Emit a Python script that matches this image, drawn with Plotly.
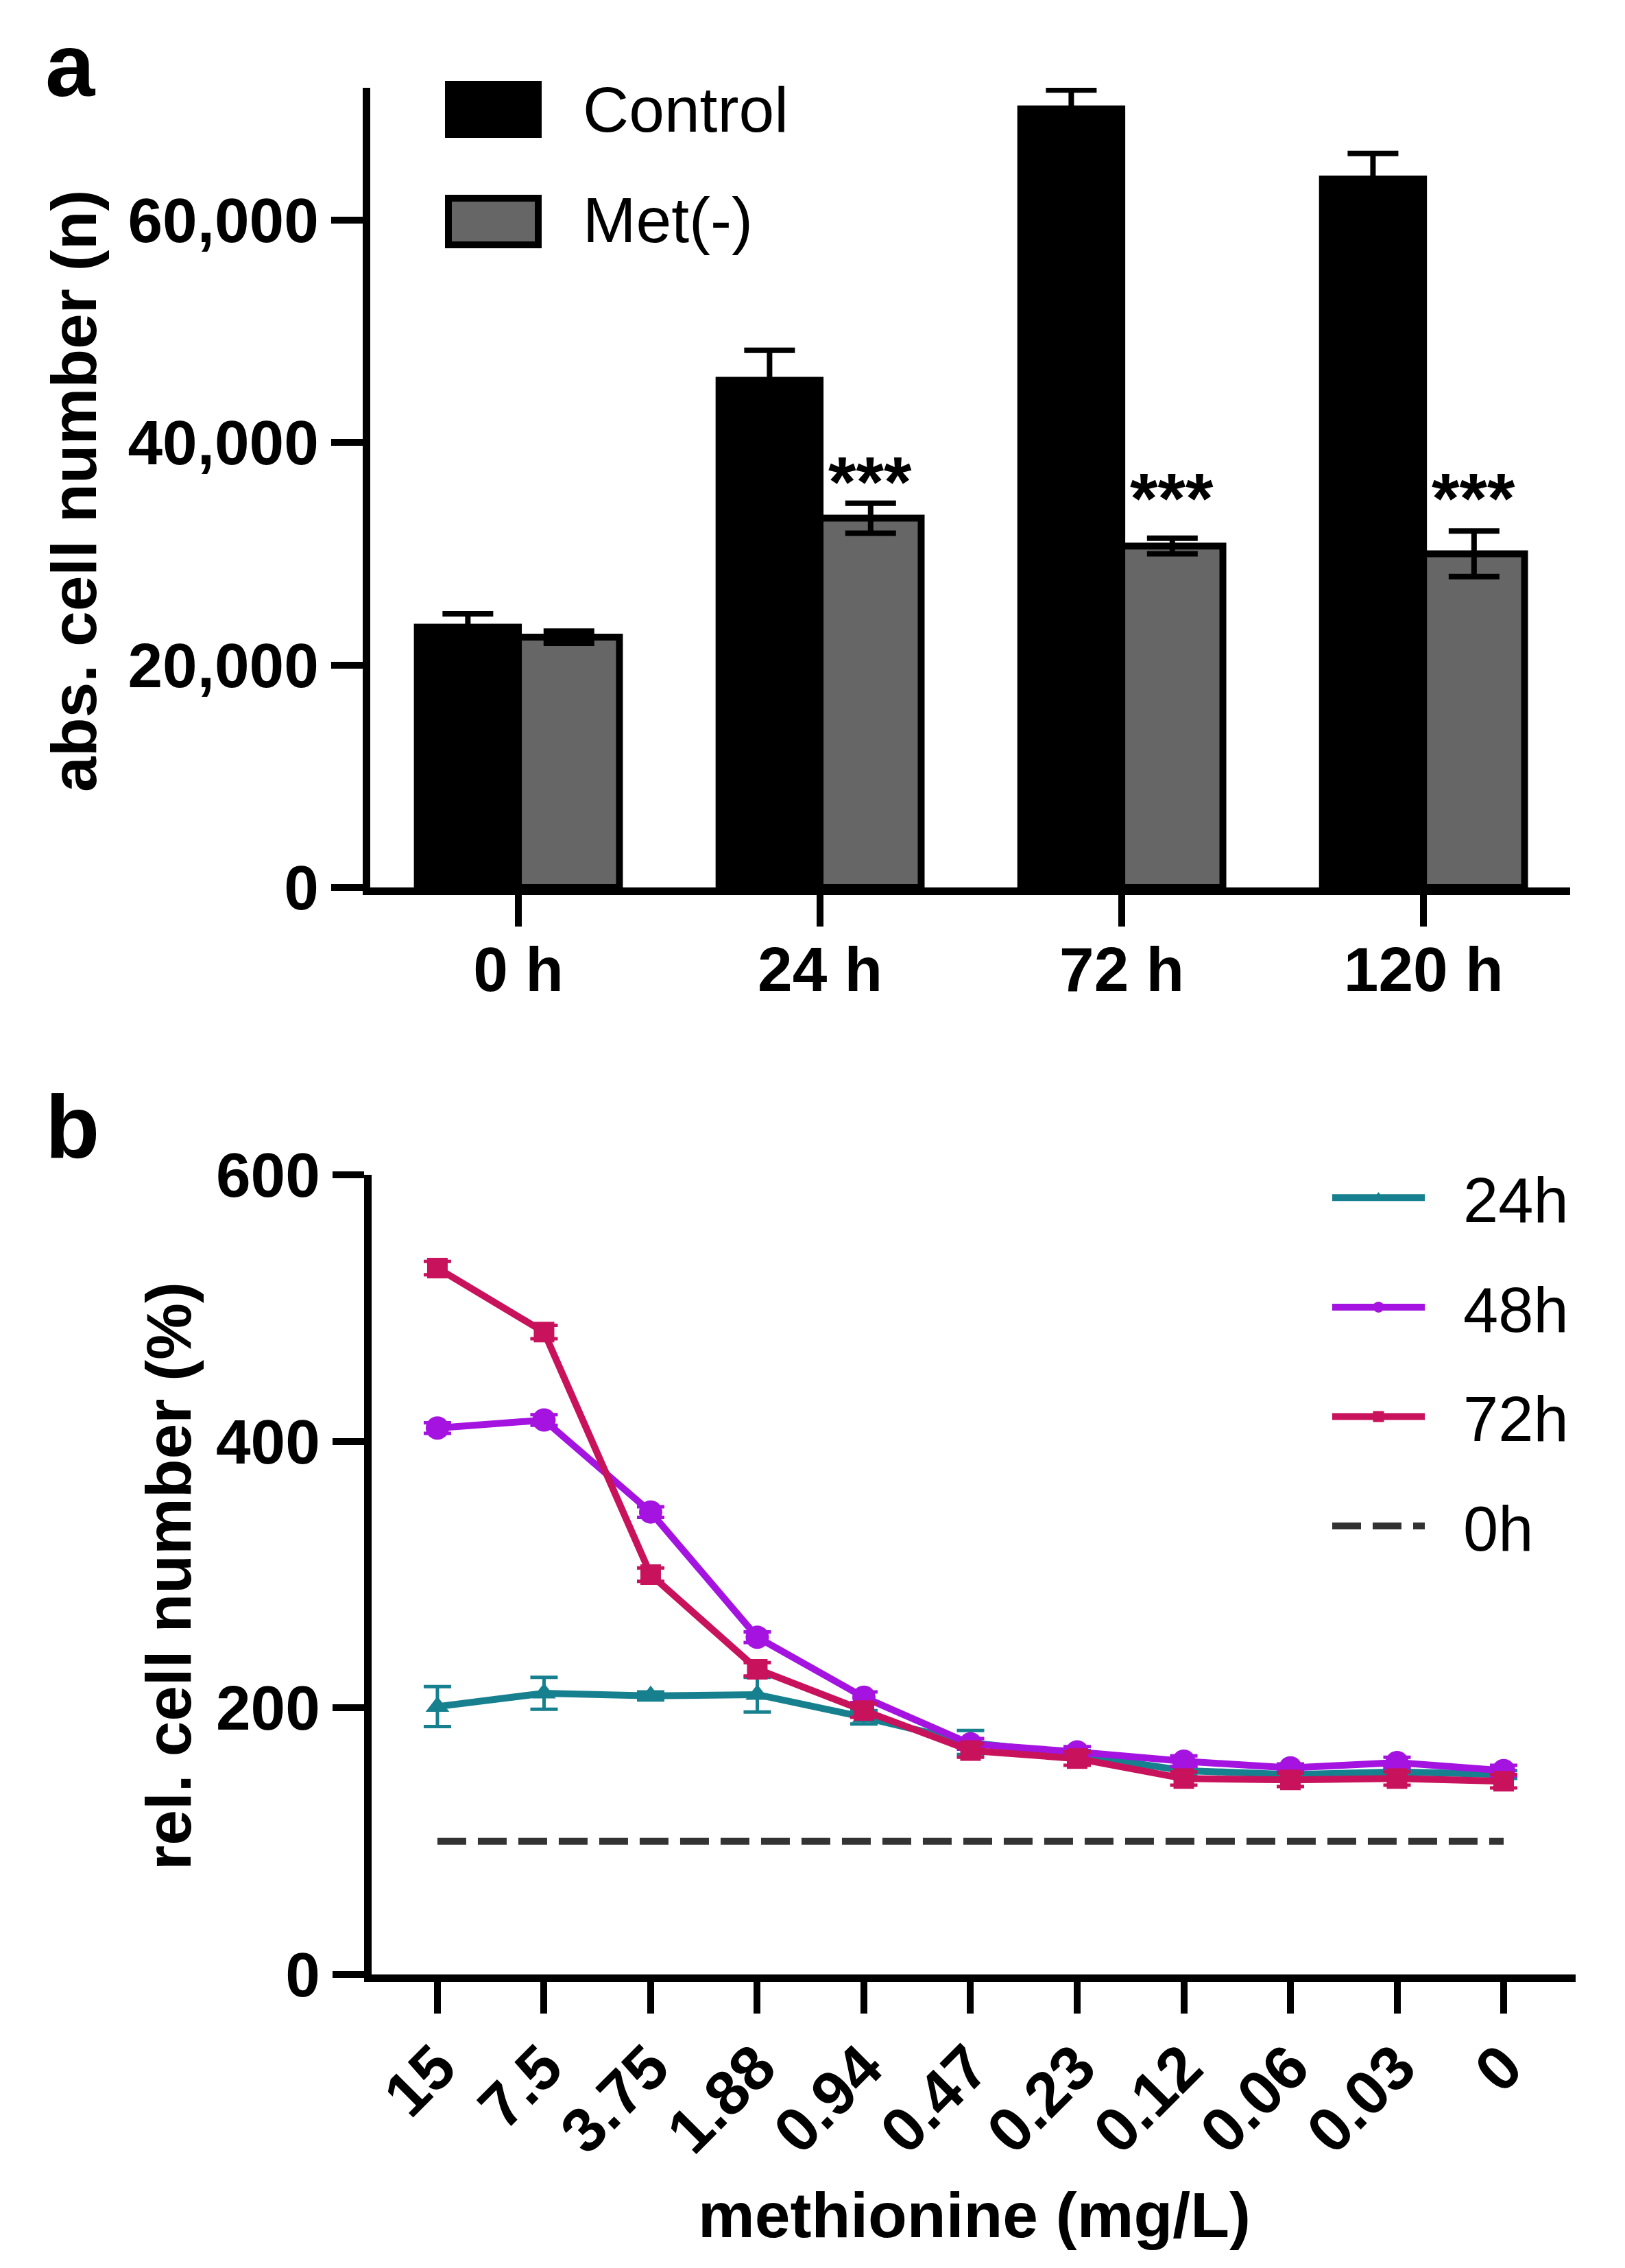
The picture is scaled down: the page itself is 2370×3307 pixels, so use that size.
import plotly.graph_objects as go

# ---- panel a data: absolute cell number ----
time_labels = ["0 h", "24 h", "72 h", "120 h"]
control_vals = [23400, 45600, 70000, 63700]
control_err = [1200, 2700, 1700, 2300]
met_vals = [22500, 33200, 30700, 30000]
met_err = [550, 1350, 700, 2050]
sig_labels = ["", "***", "***", "***"]
sig_y = [None, 36450, 34980, 34980]
abs_ticks = [0, 20000, 40000, 60000]

# ---- panel b data: relative cell number vs methionine ----
conc_labels = ["15", "7.5", "3.75", "1.88", "0.94", "0.47", "0.23", "0.12", "0.06", "0.03", "0"]
h24_vals = [201, 211, 209, 210, 193, 174, 165, 153, 150, 152, 150]
h24_err = [15, 12, 3, 13, 5, 9, 3, 3, 3, 3, 3]
h48_vals = [410, 416, 347, 253, 208, 173, 167, 160, 155, 159, 153]
h48_err = [4, 4, 4, 4, 4, 4, 4, 4, 3, 4, 4]
h72_vals = [530, 482, 300, 229, 198, 168, 162, 147, 146, 147, 145]
h72_err = [5, 5, 5, 5, 5, 5, 5, 5, 5, 5, 5]
h0_vals = [100] * 11
rel_ticks = [0, 200, 400, 600]

W, H = 2370, 3307
FONT = "Liberation Sans, Arial, Helvetica, sans-serif"
CONTROL_COL = "black"
MET_COL = "#666666"
TEAL = "#17808f"
PURPLE = "#a413e0"
CRIMSON = "#c8125c"


def px_x(v):
    return v / W


def px_y(v):
    return 1 - v / H


fig = go.Figure()

fig.add_trace(go.Bar(
    x=time_labels, y=control_vals, name="Control", showlegend=False,
    marker=dict(color=CONTROL_COL, line=dict(color="black", width=10)),
    error_y=dict(type="data", array=control_err, color="black", thickness=8, width=37),
    xaxis="x", yaxis="y",
))
fig.add_trace(go.Bar(
    x=time_labels, y=met_vals, name="Met(-)", showlegend=False,
    marker=dict(color=MET_COL, line=dict(color="black", width=10)),
    error_y=dict(type="data", array=met_err, color="black", thickness=8, width=37),
    xaxis="x", yaxis="y",
))

series_b = [
    ("24h", h24_vals, h24_err, TEAL, "triangle-up", 30),
    ("48h", h48_vals, h48_err, PURPLE, "circle", 34),
    ("72h", h72_vals, h72_err, CRIMSON, "square", 30),
]
for name, vals, err, col, sym, sz in series_b:
    fig.add_trace(go.Scatter(
        x=conc_labels, y=vals, name="\u00a0\u00a0" + name, mode="lines+markers",
        line=dict(color=col, width=10),
        marker=dict(symbol=sym, size=sz, color=col),
        error_y=dict(type="data", array=err, color=col, thickness=5, width=20),
        xaxis="x2", yaxis="y2", legend="legend2", legendgroup=name,
    ))

fig.add_trace(go.Scatter(
    x=conc_labels, y=h0_vals, name="\u00a0\u00a00h", mode="lines",
    line=dict(color="#333333", width=10, dash="42px,17px"),
    xaxis="x2", yaxis="y2", legend="legend2", legendgroup="0h",
))

# significance stars above Met(-) bars
for lab, t, yv in zip(sig_labels, time_labels, sig_y):
    if lab:
        fig.add_annotation(x=t, y=yv, xref="x", yref="y", text=lab, showarrow=False,
                           xshift=73, xanchor="center", yanchor="middle",
                           font=dict(family=FONT, size=104, color="black", weight="bold"))

axis_common = dict(
    showline=True, linecolor="black", linewidth=11,
    ticks="outside", ticklen=46, tickwidth=10, tickcolor="black",
    showgrid=False, zeroline=False,
    tickfont=dict(family=FONT, size=91, color="black", weight="bold"),
)

fig.update_layout(
    width=W, height=H, autosize=False,
    margin=dict(l=0, r=0, t=0, b=0, autoexpand=False),
    paper_bgcolor="white", plot_bgcolor="white",
    barmode="group", bargap=0.33, bargroupgap=0,
    xaxis=dict(domain=[px_x(532), px_x(2282)], anchor="y",
               range=[-0.491, 3.486], type="category", ticklabelstandoff=-15,
               **axis_common),
    yaxis=dict(domain=[px_y(1286), px_y(120)], anchor="x",
               range=[0, 71900], tickvals=abs_ticks, tickformat=",", **axis_common),
    xaxis2=dict(domain=[px_x(534), px_x(2290)], anchor="y2",
                range=[-0.617, 10.675], type="category", tickangle=-45,
                ticklabelstandoff=-12, **axis_common),
    yaxis2=dict(domain=[px_y(2871), px_y(1705)], anchor="x2",
                range=[0, 600], tickvals=rel_ticks, **axis_common),
    legend2=dict(x=px_x(1930), y=px_y(1672), xanchor="left", yanchor="top",
                 font=dict(family=FONT, size=92, color="black"),
                 itemwidth=135, tracegroupgap=37, traceorder="grouped",
                 bgcolor="rgba(0,0,0,0)"),
    showlegend=True,
)

# legend keys for panel a
fig.add_shape(type="rect", xref="paper", yref="paper",
              x0=px_x(641), x1=px_x(782), y0=px_y(193), y1=px_y(110),
              fillcolor=CONTROL_COL, line=dict(width=0))
fig.add_shape(type="rect", xref="paper", yref="paper",
              x0=px_x(646), x1=px_x(777), y0=px_y(349), y1=px_y(281),
              fillcolor=MET_COL, line=dict(color="black", width=10))
legend_font = dict(family=FONT, size=93, color="black")
fig.add_annotation(x=px_x(840), y=px_y(152), xref="paper", yref="paper", text="Control",
                   showarrow=False, xanchor="left", yanchor="middle", font=legend_font)
fig.add_annotation(x=px_x(840), y=px_y(313), xref="paper", yref="paper", text="Met(-)",
                   showarrow=False, xanchor="left", yanchor="middle", font=legend_font)

title_font = dict(family=FONT, size=93, color="black", weight="bold")
fig.add_annotation(x=px_x(100), y=px_y(708), xref="paper", yref="paper",
                   text="abs. cell number (n)", textangle=-90, showarrow=False,
                   xanchor="center", yanchor="middle", font=title_font)
fig.add_annotation(x=px_x(238), y=px_y(2290), xref="paper", yref="paper",
                   text="rel. cell number (%)", textangle=-90, showarrow=False,
                   xanchor="center", yanchor="middle", font=title_font)
fig.add_annotation(x=px_x(1413), y=px_y(3222), xref="paper", yref="paper",
                   text="methionine (mg/L)", showarrow=False,
                   xanchor="center", yanchor="middle", font=title_font)

label_font = dict(family=FONT, size=130, color="black", weight="bold")
fig.add_annotation(x=px_x(56), y=px_y(87), xref="paper", yref="paper", text="a",
                   showarrow=False, xanchor="left", yanchor="middle", font=label_font)
fig.add_annotation(x=px_x(56), y=px_y(1635), xref="paper", yref="paper", text="b",
                   showarrow=False, xanchor="left", yanchor="middle", font=label_font)

fig.write_html("out.html")
